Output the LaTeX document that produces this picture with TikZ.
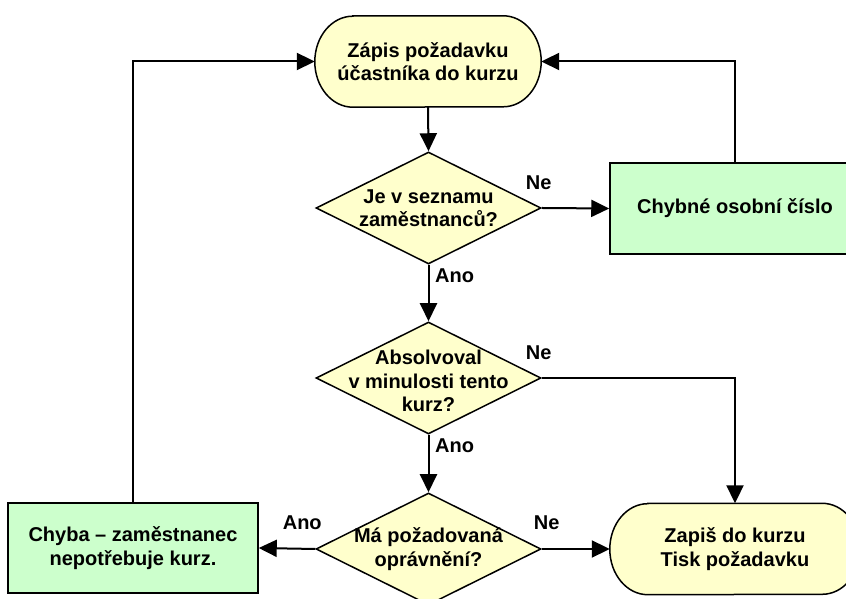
\documentclass[tikz,border=0pt]{standalone}
\usepackage{fontspec}
\setmainfont{Liberation Sans}
\usetikzlibrary{shapes.geometric,arrows.meta,backgrounds}
\definecolor{termfill}{RGB}{255,255,204}
\definecolor{procfill}{RGB}{204,255,204}

% terminator outline with elliptic ends, drawn behind a named rectangle node
\newcommand\terminatorpath[1]{%
  \path[termshape] ([xshift=38pt]#1.north west) -- ([xshift=-38pt]#1.north east)
    arc[start angle=90,end angle=-90,x radius=38pt,y radius=45.5pt]
    -- ([xshift=38pt]#1.south west)
    arc[start angle=270,end angle=90,x radius=38pt,y radius=45.5pt] -- cycle;}

\begin{document}
\begin{tikzpicture}[x=1pt,y=1pt,
  lbl/.style={font=\fontsize{20}{23.5}\selectfont\bfseries, align=center, inner sep=0pt},
  term/.style={lbl, minimum width=226pt, minimum height=91pt},
  termshape/.style={draw=black, line width=1.5pt, fill=termfill},
  decision/.style={diamond, draw=black, line width=1.5pt, fill=termfill,
    minimum width=225pt, minimum height=112pt, inner sep=0pt},
  proc/.style={lbl, rectangle, draw=black, line width=1.5pt, fill=procfill,
    minimum width=250pt, minimum height=91pt},
  conn/.style={line width=2pt, -{Triangle[length=18pt,width=17pt]}},
  tag/.style={lbl}
]
\clip (0,0) rectangle (846,599);

% terminators
\node[term] (t1) at (428,537.5) {Zápis požadavku\\účastníka do kurzu};
\node[term, minimum width=250pt] (t2) at (735,50) {Zapiš do kurzu\\Tisk požadavku};
\begin{scope}[on background layer]
  \terminatorpath{t1}
  \terminatorpath{t2}
\end{scope}

% decisions
\node[decision] (d1) at (428.5,391) {};
\node[lbl] (d1t) at (d1) {Je v seznamu\\zaměstnanců?};
\node[decision] (d2) at (428.5,221) {};
\node[lbl] (d2t) at ([yshift=-3pt]d2) {Absolvoval\\v minulosti tento\\kurz?};
\node[decision] (d3) at (428.5,50) {};
\node[lbl] (d3t) at (d3) {Má požadovaná\\oprávnění?};

% processes
\node[proc] (p1) at (735,390.5) {Chybné osobní číslo};
\node[proc, minimum height=90pt] (p2) at (133,51) {Chyba – zaměstnanec\\nepotřebuje kurz.};

% connectors
\draw[conn] (t1.south) -- (d1.north);
\draw[conn] (d1.east) -- (p1.west);
\draw[conn] (p1.north) -- (p1.north |- t1.east) -- (t1.east);
\draw[conn] (d1.south) -- (d2.north);
\draw[conn] (d2.east) -- (d2.east -| t2.north) -- (t2.north);
\draw[conn] (d2.south) -- (d3.north);
\draw[conn] (d3.east) -- (t2.west);
\draw[conn] (d3.west) -- (p2.east);
\draw[conn] (p2.north) -- (p2.north |- t1.west) -- (t1.west);

% branch labels
\node[tag] (n1) at ([shift={(-3,25)}]d1.east) {Ne};
\node[tag, anchor=west] (a1) at ([shift={(6.5,-11)}]d1.south) {Ano};
\node[tag] (n2) at ([shift={(-3,25)}]d2.east) {Ne};
\node[tag, anchor=west] (a2) at ([shift={(6.5,-11)}]d2.south) {Ano};
\node[tag] (n3) at ([shift={(5,26)}]d3.east) {Ne};
\node[tag] (a3) at ([shift={(-13,26)}]d3.west) {Ano};
\end{tikzpicture}
\end{document}
